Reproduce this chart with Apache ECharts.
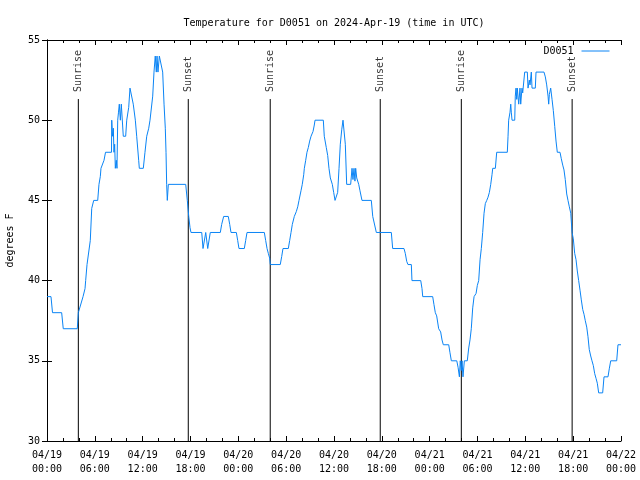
<!DOCTYPE html>
<html>
<head>
<meta charset="utf-8">
<script src="https://cdn.jsdelivr.net/npm/echarts@6/dist/echarts.min.js"></script>
<style>html,body{margin:0;padding:0;background:#fff}#c{width:640px;height:480px}</style>
</head>
<body>
<div id="c"></div>
<script>
// hours since 04/19 00:00 UTC
var hours = [0.00,0.50,0.69,1.84,2.04,3.80,3.93,4.14,4.52,4.77,4.85,5.02,5.27,5.43,5.61,5.86,6.36,6.52,6.69,6.77,6.99,7.15,7.34,8.09,8.12,8.22,8.32,8.40,8.49,8.57,8.69,8.78,8.87,8.97,9.07,9.20,9.32,9.57,9.87,10.00,10.25,10.41,10.62,10.82,11.08,11.25,11.50,11.58,12.08,12.29,12.51,12.76,12.92,13.26,13.42,13.58,13.71,13.80,13.92,14.09,14.34,14.51,14.68,14.84,14.93,15.01,15.09,15.22,17.40,17.60,17.78,17.94,18.06,
19.41,19.57,19.82,19.91,20.07,20.16,20.32,20.48,21.74,21.91,22.16,22.74,22.92,23.08,23.75,23.92,24.08,24.75,24.92,25.09,27.26,27.43,27.60,27.76,27.93,28.01,29.26,29.44,29.60,30.27,30.44,30.61,30.77,31.02,31.27,31.45,31.61,31.86,32.02,32.20,32.28,32.45,32.61,32.78,32.95,33.12,33.37,33.53,33.62,34.66,34.78,35.03,35.21,35.37,35.54,35.79,35.96,36.13,36.29,36.46,36.63,36.79,36.97,37.13,37.29,37.42,37.59,38.09,38.26,38.38,38.51,38.63,38.72,38.85,39.10,39.26,39.51,40.68,40.86,41.11,41.31,43.19,43.36,44.78,44.94,45.12,45.28,45.70,45.78,46.88,47.04,47.13,48.38,48.54,48.71,48.88,49.13,49.38,49.55,49.71,50.39,50.55,50.72,51.40,51.56,51.73,51.84,51.97,52.06,52.18,52.35,52.72,52.90,53.06,53.22,53.40,53.57,53.82,53.98,54.15,54.32,54.48,54.65,54.82,54.98,55.16,55.32,55.49,55.66,55.82,55.91,56.24,56.41,57.74,57.83,57.91,58.08,58.17,58.24,58.33,58.67,58.74,58.83,58.92,58.99,59.17,59.33,59.42,59.58,59.67,59.92,60.25,60.34,60.50,60.59,60.75,60.84,61.25,61.34,62.34,62.51,62.68,62.85,62.93,63.01,63.18,63.35,63.51,63.69,63.85,64.01,64.35,64.51,64.69,64.85,65.01,65.19,65.35,65.52,65.70,65.86,66.02,66.19,66.36,66.52,66.69,66.86,67.02,67.20,67.36,67.52,67.70,67.86,68.02,68.20,68.36,68.53,68.70,68.87,69.03,69.20,69.70,69.87,70.37,70.53,70.71,71.46,71.62,72.00];
var temps = [39,39,38,38,37,37,38,38,39,39.5,40,41,41,42.5,44.5,45,45,46,46.5,47,47,47.5,48,48,50,49,49.5,48,48.5,47,47.5,47,50,50.5,51,50,51,49,49,50,50.8,52,52,51,50,49,47.5,47,47,48,49,49.5,50,51.5,53,54,53,54,53,54,54,53,51,49.5,48,46,45,46,46,45,44,43.3,43,
43,42,42,43,43,42,42,43,43,43.5,44,44,43.5,43,43,42.5,42,42,42.5,43,43,42.5,42,41.7,41.4,41,41,41.5,42,42,42.5,43,43.5,44,44.3,44.6,45,45.6,46,46.6,47,47.5,48,48.3,48.7,49,49.3,49.7,50,50,49,48.3,47.8,47,46.4,46,45.5,45,45,45.5,47,48.5,49.4,50,50,48.5,46,46,47,46.3,47,46.2,47,46.4,46,45.6,45,45,44,44,43,43,42,42,41.7,41.2,41,41,40,40,39.5,39,39,38.5,38,37.8,37,36.8,36.3,36,36,35.5,35,35,34.6,34,35,34.4,35,34,35,35,35.8,36.3,37,38.3,39,39.2,39.7,40,41.3,42,43,44.2,44.8,45,45.2,45.5,46,46.6,47,47,48,48,49,50,50.5,51,50.5,50,50,51.5,52,51.3,52,51,52,51,52,51.7,53,53,52,52.5,52.2,53,52,52,53,53,52.7,52.2,51.5,51,51.6,52,51.3,50.6,49.6,48.7,48,48,47.6,47.2,46.9,46.3,45.4,45,44.6,44.2,43,42.6,41.7,41.3,40.6,40,39.4,38.8,38.2,37.9,37.5,37.1,36.5,35.7,35.3,35,34.7,34.2,33.9,33.6,33,33,34,34,34.5,35,35,36,36];
var eventNames = ['Sunrise','Sunset','Sunrise','Sunset','Sunrise','Sunset'];
var eventHours = [3.93,17.72,28.00,41.80,51.97,65.87];
var eventTop = 51.32;
var tickLabels = ['04/19\n00:00','04/19\n06:00','04/19\n12:00','04/19\n18:00','04/20\n00:00','04/20\n06:00','04/20\n12:00','04/20\n18:00','04/21\n00:00','04/21\n06:00','04/21\n12:00','04/21\n18:00','04/22\n00:00'];
var seriesName = 'D0051';
var titleText = 'Temperature for D0051 on 2024-Apr-19 (time in UTC)';
var yName = 'degrees F';

var FONT = 'DejaVu Sans Mono';
var LINE = '#0a84f5';
var chart = echarts.init(document.getElementById('c'), null, {renderer:'canvas'});
var tempData = hours.map(function(h,i){return [h, temps[i]];});
var series = [];
eventHours.forEach(function(h,i){
  series.push({type:'line', name:'ev'+i, data:[[h,30],[h,eventTop]], symbol:'none', silent:true,
    lineStyle:{color:'#000', width:1}, z:2});
});
series.push({type:'scatter', name:'evlabels', symbolSize:0, silent:true, z:3,
  data: eventHours.map(function(h,i){return {name:eventNames[i], value:[h,eventTop]};}),
  label:{show:true, formatter:'{b}', position:'top', distance:7, rotate:90, align:'left', verticalAlign:'middle',
    fontFamily:FONT, fontSize:10, color:'#000'}});
series.push({type:'line', name:seriesName, data:tempData, symbol:'none', showSymbol:false,
  lineStyle:{color:LINE, width:1}, itemStyle:{color:LINE}, z:5});

var axisCommon = {axisLine:{lineStyle:{color:'#000', width:1}}, splitLine:{show:false}};
chart.setOption({
  animation:false,
  backgroundColor:'#fff',
  title:{text:titleText, left:329, top:13, textAlign:'center', textStyle:{fontFamily:FONT, fontSize:10, fontWeight:'normal', color:'#000'}},
  legend:{data:[seriesName], right:25, top:41, align:'right', itemWidth:28, itemHeight:10, itemGap:4,
    itemStyle:{opacity:0, borderWidth:0}, lineStyle:{width:1},
    textStyle:{fontFamily:FONT, fontSize:10, color:'#000', padding:[0,3,0,0]}},
  grid:{left:47, right:19, top:40, bottom:39, containLabel:false, outerBoundsMode:'none'},
  xAxis:[
    Object.assign({type:'value', min:0, max:72, interval:6, position:'bottom',
      axisTick:{inside:true, length:5, lineStyle:{color:'#000'}},
      minorTick:{show:true, splitNumber:3, length:3, lineStyle:{color:'#000'}},
      axisLabel:{formatter:function(v){return tickLabels[Math.round(v/6)];}, fontFamily:FONT, fontSize:10, color:'#000', margin:7, lineHeight:14}}, axisCommon),
    Object.assign({type:'value', min:0, max:72, interval:6, position:'top',
      axisTick:{inside:true, length:5, lineStyle:{color:'#000'}},
      minorTick:{show:true, splitNumber:3, length:3, lineStyle:{color:'#000'}},
      axisLabel:{show:false}}, axisCommon)
  ],
  yAxis:[
    Object.assign({type:'value', min:30, max:55, interval:5, position:'left',
      name:yName, nameLocation:'middle', nameGap:32, nameRotate:90, nameTextStyle:{fontFamily:FONT, fontSize:10, color:'#000'},
      axisTick:{inside:true, length:5, lineStyle:{color:'#000'}},
      axisLabel:{fontFamily:FONT, fontSize:10, color:'#000', margin:7}}, axisCommon),
    Object.assign({type:'value', min:30, max:55, interval:5, position:'right',
      axisTick:{inside:true, length:5, lineStyle:{color:'#000'}},
      axisLabel:{show:false}}, axisCommon)
  ],
  series:series
});
</script>
</body>
</html>
